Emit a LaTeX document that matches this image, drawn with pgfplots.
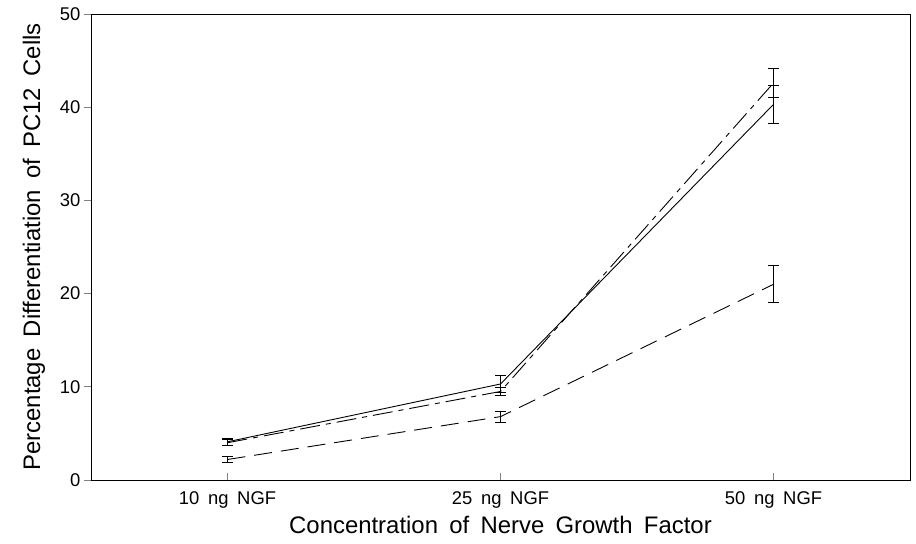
\documentclass[border=0pt]{standalone}
\usepackage{fontspec}
\setmainfont[WordSpace=1.7]{Liberation Sans}
\usepackage{pgfplots}
\pgfplotsset{compat=1.18}

\begin{document}
\begin{tikzpicture}
\begin{axis}[
    scale only axis,
    width=819bp, height=466bp,
    xmin=-0.5, xmax=2.5,
    ymin=0, ymax=50,
    xtick={0,1,2},
    xticklabels={10 ng NGF, 25 ng NGF, 50 ng NGF},
    ytick={0,10,20,30,40,50},
    xtick pos=bottom, ytick pos=left,
    x tick style={line width=0.9pt},
    y tick style={line width=0.9pt},
    xtick align=inside, ytick align=outside,
    major tick length=7bp,
    axis line style={line width=0.9pt},
    tick label style={font=\fontsize{18.5}{21}\selectfont},
    xticklabel style={yshift=-8bp},
    /pgf/number format/assume math mode=true,
    xlabel={Concentration of Nerve Growth Factor},
    ylabel={Percentage Differentiation of PC12 Cells},
    label style={font=\fontsize{24}{27}\selectfont},
    xlabel style={yshift=-1bp},
    ylabel style={yshift=8bp},
    error bars/error bar style={solid, line width=0.9pt},
    error bars/error mark options={rotate=90, mark size=5.5bp, line width=0.9pt},
]
% solid
\addplot[black, line width=0.9pt, solid, error bars/.cd, y dir=both, y explicit]
  coordinates {(0,4.1) +- (0,0.4) (1,10.3) +- (0,0.9) (2,40.3) +- (0,2.0)};
% dash-dot
\addplot[black, line width=0.9pt, dash pattern=on 20bp off 6bp on 5bp off 6bp, error bars/.cd, y dir=both, y explicit]
  coordinates {(0,4.0) +- (0,0.3) (1,9.5) +- (0,0.4) (2,42.6) +- (0,1.6)};
% dashed
\addplot[black, line width=0.9pt, dash pattern=on 18bp off 9bp, error bars/.cd, y dir=both, y explicit]
  coordinates {(0,2.2) +- (0,0.35) (1,6.8) +- (0,0.6) (2,21.0) +- (0,2.0)};
\end{axis}
\path[use as bounding box] (-91bp,-64bp) rectangle (825bp,480bp);
\end{tikzpicture}
\end{document}
